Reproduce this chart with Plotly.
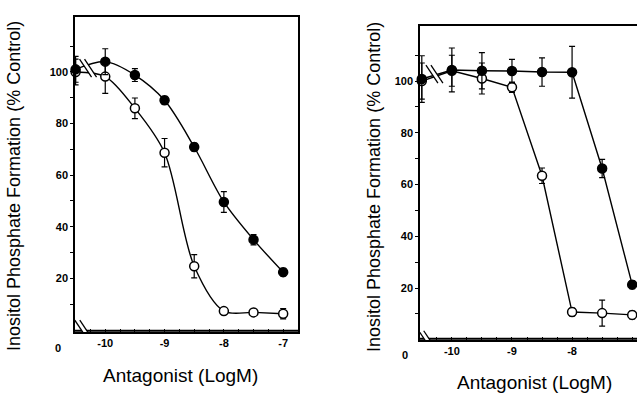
import plotly.graph_objects as go

# ---------------- data ----------------
log_dose = [-10.5, -10, -9.5, -9, -8.5, -8, -7.5, -7]

a_filled = [101, 104, 98.8, 89, 70.9, 49.6, 35, 22.4]
a_filled_err = [5, 5, 2.5, 1.5, 1.5, 4, 2, 1.5]
a_open = [100, 98.2, 85.9, 68.7, 24.7, 7.3, 6.8, 6.3]
a_open_err = [5, 6.5, 4, 5.5, 4.5, 1, 1, 2]

b_filled = [100.8, 104.3, 104, 103.9, 103.5, 103.4, 66.2, 21.3]
b_filled_err = [9, 8.5, 7, 4.5, 5.5, 10, 3.5, 1.5]
b_open = [100, 104, 101, 97.6, 63.4, 10.7, 10.3, 9.6]
b_open_err = [7, 6, 6, 2, 3, 1.5, 5, 1.5]

x_tick_labels = ["-10", "-9", "-8", "-7"]
x_tick_label_vals = [-10, -9, -8, -7]
y_tick_labels = ["20", "40", "60", "80", "100"]
y_tick_label_vals = [20, 40, 60, 80, 100]

y_title = "Inositol Phosphate Formation (% Control)"
x_title = "Antagonist (LogM)"

FONT = "Arial, Liberation Sans, Helvetica, sans-serif"

# minor tick positions (every 0.25 log unit, every 10 %)
x_ticks = [-10.25 + 0.25 * i for i in range(14)]
x_text = [x_tick_labels[x_tick_label_vals.index(v)] if v in x_tick_label_vals else "" for v in x_ticks]
y_ticks = [10 * i for i in range(1, 12)]
y_text = [y_tick_labels[y_tick_label_vals.index(v)] if v in y_tick_label_vals else "" for v in y_ticks]

fig = go.Figure()


def add_series(y, err, filled, xa, ya, shape):
    fig.add_trace(go.Scatter(
        x=log_dose, y=y, mode="lines+markers",
        line=dict(color="black", width=1.4, shape=shape, smoothing=0.9),
        marker=dict(size=9, color="black" if filled else "white",
                    line=dict(color="black", width=1.5)),
        error_y=dict(type="data", array=err, visible=True, color="black",
                     thickness=1.2, width=3),
        cliponaxis=False, showlegend=False, xaxis=xa, yaxis=ya))


add_series(a_open, a_open_err, False, "x", "y", "spline")
add_series(a_filled, a_filled_err, True, "x", "y", "spline")
add_series(b_open, b_open_err, False, "x2", "y2", "linear")
add_series(b_filled, b_filled_err, True, "x2", "y2", "linear")

axis_common = dict(showline=True, linecolor="black", linewidth=1.5,
                   showgrid=False, zeroline=False,
                   tickfont=dict(family=FONT, size=11, color="black", weight="bold"),
                   tickcolor="black", tickwidth=1)

fig.update_layout(
    width=637, height=393,
    margin=dict(l=0, r=0, t=0, b=0),
    paper_bgcolor="white", plot_bgcolor="white",
    showlegend=False,
    xaxis=dict(domain=[75 / 637, 298 / 637], range=[-10.51, -6.75],
               tickmode="array", tickvals=x_ticks, ticktext=x_text,
               ticks="inside", ticklen=3, mirror=True, anchor="y",
               side="bottom", **axis_common),
    yaxis=dict(domain=[(393 - 332) / 393, (393 - 17) / 393], range=[-0.8, 121.3],
               tickmode="array", tickvals=y_ticks, ticktext=y_text,
               ticks="outside", ticklen=3, mirror=True, anchor="x", **axis_common),
    xaxis2=dict(domain=[420 / 637, 1.0], range=[-10.53, -6.92],
                tickmode="array", tickvals=x_ticks, ticktext=x_text,
                ticks="inside", ticklen=3, mirror=True, anchor="y2",
                side="bottom", **axis_common),
    yaxis2=dict(domain=[(393 - 340) / 393, (393 - 26) / 393], range=[-0.1, 121.3],
                tickmode="array", tickvals=y_ticks, ticktext=y_text,
                ticks="outside", ticklen=3, mirror=False, anchor="x2", **axis_common),
)

# explicit bottom axis lines, just inside the plot area so they are never clipped
for xr, yr in [("x domain", "y domain"), ("x2 domain", "y2 domain")]:
    fig.add_shape(type="line", xref=xr, yref=yr, x0=0, x1=1, y0=0.004, y1=0.004,
                  line=dict(color="black", width=1.8), layer="above")

# axis titles and the offset "0" labels
ann = [
    dict(text=y_title, x=14 / 637, y=(393 - 186) / 393, textangle=-90, size=18),
    dict(text=y_title, x=374 / 637, y=(393 - 187) / 393, textangle=-90, size=18),
    dict(text=x_title, x=180 / 637, y=(393 - 375) / 393, textangle=0, size=19),
    dict(text=x_title, x=534 / 637, y=(393 - 382) / 393, textangle=0, size=19),
]
for a in ann:
    fig.add_annotation(xref="paper", yref="paper", showarrow=False,
                       xanchor="center", yanchor="middle", text=a["text"],
                       x=a["x"], y=a["y"], textangle=a["textangle"],
                       font=dict(family=FONT, size=a["size"], color="black"))
for xx, yy in [(58, 348), (405, 355)]:
    fig.add_annotation(xref="paper", yref="paper", x=xx / 637, y=(393 - yy) / 393,
                       text="0", showarrow=False, xanchor="center", yanchor="middle",
                       font=dict(family=FONT, size=11, color="black", weight="bold"))

# axis-break marks (pixel-sized, anchored to data positions)
breaks = [("x", "y", -10.29, 101.5), ("x", "y", -10.37, 0.3),
          ("x2", "y2", -10.29, 102.7), ("x2", "y2", -10.41, 0.0)]
for xr, yr, bx, by in breaks:
    base = dict(type="line", xref=xr, yref=yr, xsizemode="pixel", ysizemode="pixel",
                xanchor=bx, yanchor=by, layer="above")
    fig.add_shape(x0=-6, y0=9, x1=6, y1=-9, line=dict(color="white", width=4), **base)
    for off in (-2.5, 2.5):
        fig.add_shape(x0=-6 + off, y0=9, x1=6 + off, y1=-9,
                      line=dict(color="black", width=1.3), **base)

fig.write_html("out.html", config={"displayModeBar": False},
               post_script="document.body.style.margin='0';document.body.style.overflow='hidden';")
